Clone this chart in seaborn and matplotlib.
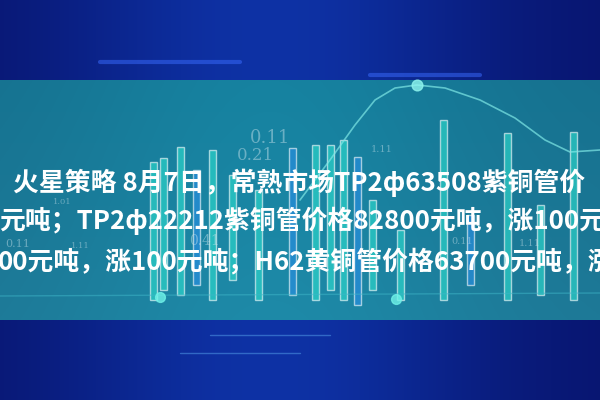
import numpy as np
import matplotlib.pyplot as plt
import seaborn as sns

# ─── Data (pixel units) ──────────────────────────────────────────────────────
bar_x      = [153, 163, 180, 196, 212, 232, 258, 292, 315, 330, 343, 357, 372, 400, 443, 470, 507, 540, 573]
bar_top    = [162, 158, 147, 170, 150, 175, 190, 148, 145, 145, 140, 157, 200, 230, 120, 215, 133, 205, 132]
bar_bottom = [300, 290, 295, 285, 300, 280, 300, 295, 300, 290, 300, 305, 290, 300, 300, 285, 300, 295, 300]

curve_x = [300, 330, 355, 375, 395, 417, 445, 480, 515, 545, 570, 600]
curve_y = [200, 160, 125, 100,  88,  85,  88, 100, 118, 140, 152, 150]

num_labels = ["0.11", "0.21", "0.41", "0.11", "1.01", "1.11", "1.11", "0.11", "1.11"]
num_x      = [270,    255,    205,    18,     62,     80,     382,    462,    530]
num_y      = [138,    156,    241,    244,    202,    246,    150,    241,    244]
num_size   = [13,     12,     10,     8,      6,      6,      7,      7,      7]

text_lines = [
    "火星策略 8月7日，常熟市场TP2ф63508紫铜管价",
    "元吨；TP2ф22212紫铜管价格82800元吨，涨100元",
    "00元吨，涨100元吨；H62黄铜管价格63700元吨，涨",
]
text_x = [13, -1, -2]
text_y = [183, 221, 262]
# ──────────────────────────────────────────────────────────────────────────────

sns.set_theme(style="white")
plt.rcParams["font.family"] = ["Noto Sans CJK SC", "DejaVu Sans"]

W, H = 600, 400
fig = plt.figure(figsize=(6, 4), dpi=100)
ax = fig.add_axes([0, 0, 1, 1])

# background: navy / teal / navy bands
img = np.zeros((H, W, 3))
xx = np.linspace(0, 1, W)
glow = np.exp(-((xx - 0.45) / 0.35) ** 2)
navy_edge = np.array([8, 20, 110]) / 255
navy_mid = np.array([14, 50, 165]) / 255
teal_left = np.array([22, 100, 130]) / 255
teal_mid = np.array([22, 130, 160]) / 255
for y in range(H):
    if y < 80 or y >= 320:
        row = navy_edge + (navy_mid - navy_edge) * glow[:, None]
    else:
        t = (y - 80) / 240
        row = teal_left + (teal_mid - teal_left) * (0.4 + 0.6 * glow[:, None])
        row = row + 0.03 * t
    img[y] = np.clip(row, 0, 1)
ax.imshow(img, extent=[0, W, H, 0], aspect="auto", zorder=0)

# candle bars
for i, (x, t, b) in enumerate(zip(bar_x, bar_top, bar_bottom)):
    col = "#2fe0cf" if i % 4 != 3 else "#2a8fe6"
    ax.bar(x, b - t, bottom=t, width=7, color=col, alpha=0.6, zorder=1)

# curve
sns.lineplot(x=curve_x, y=curve_y, ax=ax, color="#7fe8e6", lw=1.2, alpha=0.7,
             sort=False, zorder=2)
ax.scatter([417], [85], s=60, color="#8ff5ee", alpha=0.8, zorder=2)

# decorative glow lines
ax.plot([100, 240], [62, 62], color="#3a6cff", lw=3, alpha=0.5, zorder=1)
ax.plot([370, 480], [75, 75], color="#3a6cff", lw=3, alpha=0.5, zorder=1)
ax.plot([0, 600], [296, 293], color="#3fb6c8", lw=1, alpha=0.5, zorder=1)
ax.scatter([160, 396], [297, 299], s=50, color="#6ff2e8", alpha=0.8, zorder=2)
ax.plot([210, 330], [335, 335], color="#4a8fe0", lw=1, alpha=0.6, zorder=1)
ax.plot([180, 300], [353, 353], color="#4a8fe0", lw=1, alpha=0.6, zorder=1)

for s, x, y, fs in zip(num_labels, num_x, num_y, num_size):
    ax.text(x, y, s, fontsize=fs, color="#cfe6ee", alpha=0.45,
            family="DejaVu Serif", ha="center", va="center", zorder=1)

for s, x, y in zip(text_lines, text_x, text_y):
    ax.text(x, y, s, fontsize=18.6, fontweight="bold", color="white",
            ha="left", va="center", zorder=5)

ax.set_xlim(0, W)
ax.set_ylim(H, 0)
ax.axis("off")

fig.savefig("out.png", dpi=100)
